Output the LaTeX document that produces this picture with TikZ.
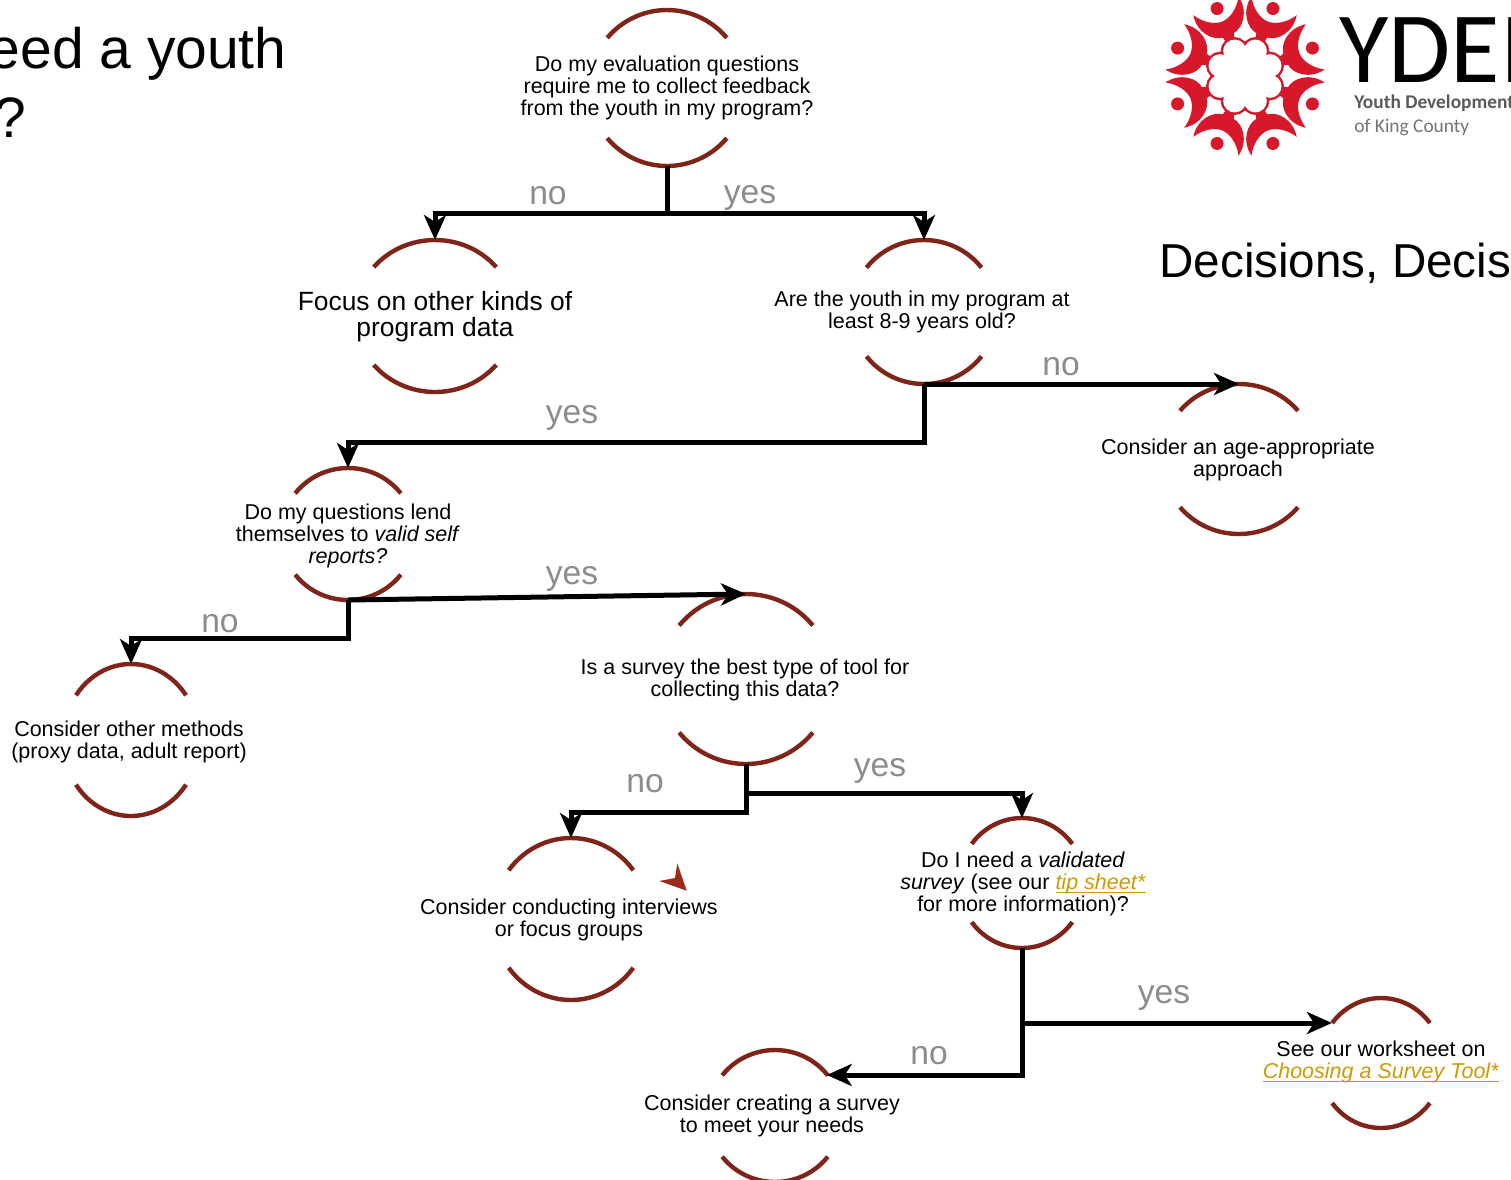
\documentclass[tikz,border=0pt]{standalone}
\usepackage{fontspec}
\setmainfont{Liberation Sans}
\newfontfamily\logofont{Carlito}
\usetikzlibrary{arrows.meta,shapes.geometric}
\definecolor{rimred}{HTML}{7F2418}
\definecolor{strayred}{HTML}{9C2B1C}
\definecolor{logored}{HTML}{D7182A}
\definecolor{linkgold}{HTML}{CC9A06}
\newcommand{\goldlink}[1]{\textcolor{linkgold}{\setbox0\hbox{\textit{#1}}\rlap{\rule[-1.5pt]{\wd0}{0.5pt}}\box0}}
\tikzset{
    rim/.style={draw=rimred,line width=2.2pt},
    spot/.style={ellipse,inner sep=0pt,outer sep=0pt},
    tip/.style={inner sep=0pt,align=center,font=\fontsize{10.75}{11.15}\selectfont},
    bigtip/.style={inner sep=0pt,align=center,font=\fontsize{13.2}{13}\selectfont},
    answer/.style={inner sep=0pt,text=black!45,font=\fontsize{16.8}{18}\selectfont},
    headline/.style={inner sep=0pt,font=\fontsize{28.5}{30}\selectfont},
    subline/.style={inner sep=0pt,font=\fontsize{23.8}{28}\selectfont},
    trunk/.style={line width=2.5pt},
    link/.style={trunk,-{Stealth[length=12.5pt,width=11pt,inset=3.5pt]}}
}
\begin{document}
\begin{tikzpicture}[x=0.5pt,y=-0.5pt]
    \useasboundingbox (0,0) rectangle (1511,1179);
    \clip (0,0) rectangle (1511,1179);
    \foreach \nm/\cx/\cy/\rx/\ry/\a in {
        evalq/667/88/78/78/40, focus/435/316/80/76/40, agecheck/924/312/73/72/38,
        agefit/1239/459/77/75/40, lend/348/534/67/66/38, survey/746/679/86/85/39,
        other/131/740/68/76/36, interviews/571/919/78/81/37, validated/1022/883/63/65/37,
        sheet/1381/1063/62/65/38, create/775/1116/67/66/38} {
        \node[spot,minimum width=\rx pt,minimum height=\ry pt] (\nm) at (\cx,\cy) {};
        \draw[rim] ({\cx+\rx*cos(180+\a)},{\cy+\ry*sin(180+\a)}) arc[start angle=180+\a,end angle=360-\a,x radius=\rx,y radius=\ry];
        \draw[rim] ({\cx+\rx*cos(\a)},{\cy+\ry*sin(\a)}) arc[start angle=\a,end angle=180-\a,x radius=\rx,y radius=\ry];
    }
    \node[tip] (evaltext) at (667,88) {Do my evaluation questions\\require me to collect feedback\\from the youth in my program?};
    \node[bigtip] (focustext) at (435,317) {Focus on other kinds of\\program data};
    \node[tip] (agetext) at (922,312) {Are the youth in my program at\\least 8-9 years old?};
    \node[tip] (fittext) at (1238,460) {Consider an age-appropriate\\approach};
    \node[tip] (lendtext) at (348,536) {Do my questions lend\\themselves to \textit{valid self}\\\textit{reports?}};
    \node[tip] (surveytext) at (745,680) {Is a survey the best type of tool for\\collecting this data?};
    \node[tip] (othertext) at (129,742) {Consider other methods\\(proxy data, adult report)};
    \node[tip] (interviewtext) at (569,920) {Consider conducting interviews\\or focus groups};
    \node[tip] (validtext) at (1023,884) {Do I need a \textit{validated}\\\textit{survey} (see our \goldlink{tip sheet*}\\for more information)?};
    \node[tip] (sheettext) at (1381,1062) {See our worksheet on\\\goldlink{Choosing a Survey Tool*}};
    \node[tip] (createtext) at (772,1116) {Consider creating a survey\\to meet your needs};
    \coordinate (splita) at (667,213);
    \coordinate (splitb) at (924,442);
    \coordinate (splitc) at (348,638);
    \coordinate (splitd) at (746,812);
    \coordinate (splite) at (746,793);
    \coordinate (splitf) at (1022,1023);
    \coordinate (splitg) at (1022,1075);
    \coordinate (sheettip) at (sheet.141 |- splitf);
    \coordinate (createtip) at (create.39 |- splitg);
    \draw[trunk] (evalq.south) -- (splita);
    \draw[link] (splita) -| (focus.north);
    \draw[link] (splita) -| (agecheck.north);
    \draw[link] (agecheck.south) -- (agefit.north);
    \draw[link] (agecheck.south) -- (splitb) -| (lend.north);
    \draw[link] (lend.south) -- (survey.north);
    \draw[link] (lend.south) -- (splitc) -| (other.north);
    \draw[link] (survey.south) -- (splitd) -| (interviews.north);
    \draw[link] (splite) -| (validated.north);
    \draw[link] (validated.south) -- (splitf) -- (sheettip);
    \draw[link] (splitf) -- (splitg) -- (createtip);
    \node[answer] (noa) at (548,196) {no};
    \node[answer] (yesa) at (750,198) {yes};
    \node[answer] (nob) at (1061,367) {no};
    \node[answer] (yesb) at (572,418) {yes};
    \node[answer] (yesc) at (572,579) {yes};
    \node[answer] (noc) at (220,624) {no};
    \node[answer] (nod) at (645,784) {no};
    \node[answer] (yesd) at (880,771) {yes};
    \node[answer] (yese) at (1164,998) {yes};
    \node[answer] (noe) at (929,1056) {no};
    \fill[strayred] (677.3,863.3) -- (686.7,890.7) -- (659.3,881) -- (675,878) -- cycle;
    \node[headline,anchor=base east] (titlea) at (287,68) {eed a youth};
    \node[headline,anchor=base west] (titleb) at (-6,137) {?};
    \node[subline,anchor=base west] (titlec) at (1159,277) {Decisions, Decis};
    \begin{scope}[shift={(1245,76)}]
        \foreach \t in {22.5,67.5,...,337.5} {
            \begin{scope}[rotate=\t]
                \fill[logored] (27,0) circle (14);
                \fill[logored] (73,0) circle (6.5);
                \fill[logored] (76,24.5) .. controls (58,28) and (45,16) .. (44,6) -- (37,4) -- (37,-4) -- (44,-6)
                    .. controls (45,-16) and (58,-28) .. (76,-24.5)
                    .. controls (65,-18) and (59,-8) .. (59,0) .. controls (59,8) and (65,18) .. (76,24.5) -- cycle;
            \end{scope}
        }
        \foreach \t in {22.5,67.5,...,337.5} {
            \fill[white,rotate=\t] (27,0) circle (11.5);
        }
        \fill[white] (0,0) circle (30);
    \end{scope}
    \node[inner sep=0pt,anchor=base west,font=\logofont\fontsize{50.5}{50}\selectfont] (logoname) at (1339,82) {YDEI};
    \node[inner sep=0pt,anchor=base west,text=black!65,font=\logofont\bfseries\fontsize{9.7}{10}\selectfont] (logolinea) at (1354,108) {Youth Development};
    \node[inner sep=0pt,anchor=base west,text=black!55,font=\logofont\fontsize{9.7}{10}\selectfont] (logolineb) at (1354,132) {of King County};
\end{tikzpicture}
\end{document}
